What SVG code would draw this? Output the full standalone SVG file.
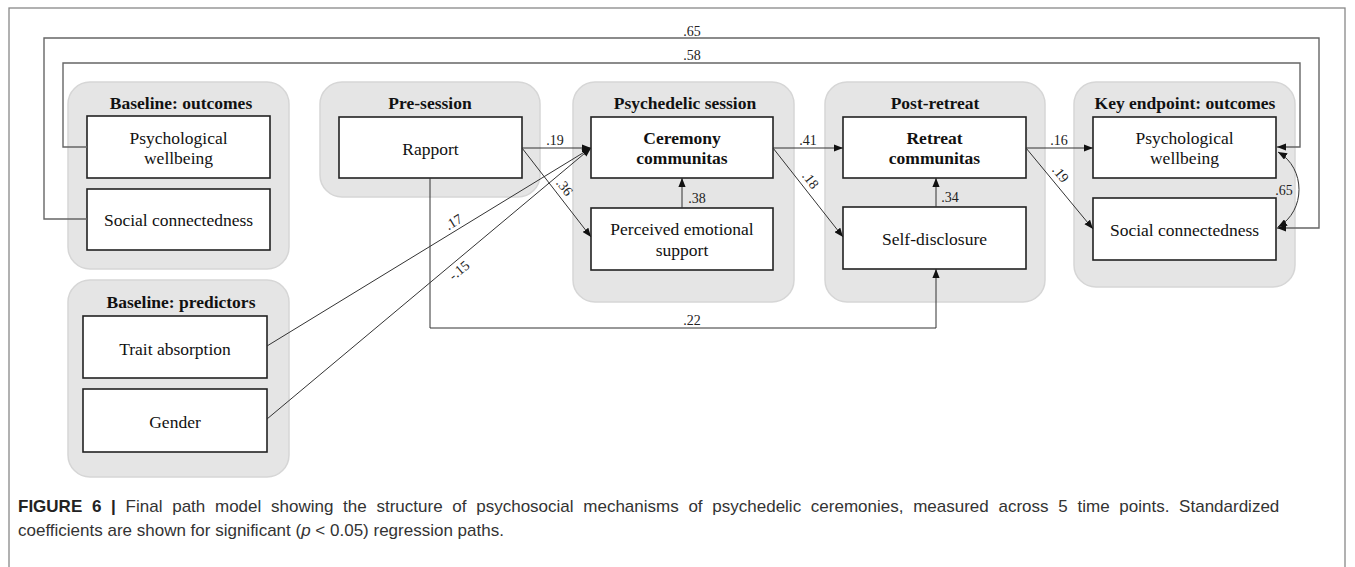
<svg xmlns="http://www.w3.org/2000/svg" width="1355" height="567" viewBox="0 0 1355 567">
<defs>
<marker id="ah" viewBox="0 0 10 8" markerWidth="9" markerHeight="7.5" refX="10" refY="4" orient="auto-start-reverse" markerUnits="userSpaceOnUse">
<path d="M0,0 L10,4 L0,8 z" fill="#111"/>
</marker>
<style>
.grp{fill:#e5e5e5;stroke:#d6d6d6;stroke-width:1.5}
.box{fill:#fff;stroke:#222;stroke-width:1.6}
.t{font-family:"Liberation Serif","Times New Roman",serif;font-size:17.5px;fill:#111;text-anchor:middle}
.b{font-weight:bold}
.lbl{font-family:"Liberation Serif","Times New Roman",serif;font-size:14px;fill:#222;text-anchor:middle}
.c{fill:none;stroke:#333;stroke-width:1}
.loop{fill:none;stroke:#666;stroke-width:1.4}
.cap{font-family:"Liberation Sans",Arial,sans-serif;font-size:17px;fill:#333}
</style>
</defs>
<rect x="9" y="8" width="1336" height="600" fill="none" stroke="#888" stroke-width="1.3"/>

<g id="group-baseline-outcomes">
<rect class="grp" x="68" y="82" width="221" height="187" rx="22"/>
<text class="t b" x="181" y="109">Baseline: outcomes</text>
</g>
<g id="group-pre-session">
<rect class="grp" x="320" y="82" width="220" height="115" rx="22"/>
<text class="t b" x="430" y="109">Pre-session</text>
</g>
<g id="group-psychedelic-session">
<rect class="grp" x="573" y="82" width="221" height="220" rx="22"/>
<text class="t b" x="685" y="109">Psychedelic session</text>
</g>
<g id="group-post-retreat">
<rect class="grp" x="825" y="82" width="220" height="220" rx="22"/>
<text class="t b" x="935" y="109">Post-retreat</text>
</g>
<g id="group-key-endpoint">
<rect class="grp" x="1074" y="82" width="221" height="205" rx="22"/>
<text class="t b" x="1185" y="109">Key endpoint: outcomes</text>
</g>
<g id="group-baseline-predictors">
<rect class="grp" x="68" y="280" width="221" height="197" rx="22"/>
<text class="t b" x="181" y="308">Baseline: predictors</text>
</g>

<g id="node-baseline-wellbeing">
<rect class="box" x="87" y="116" width="183" height="62"/>
<text class="t" x="178.5" y="144">Psychological</text>
<text class="t" x="178.5" y="164">wellbeing</text>
</g>
<g id="node-baseline-connectedness">
<rect class="box" x="87" y="189" width="183" height="61"/>
<text class="t" x="178.5" y="226">Social connectedness</text>
</g>
<g id="node-rapport">
<rect class="box" x="339" y="117" width="183" height="61"/>
<text class="t" x="430.5" y="155">Rapport</text>
</g>
<g id="node-ceremony-communitas">
<rect class="box" x="591" y="117" width="182" height="61"/>
<text class="t b" x="682" y="144">Ceremony</text>
<text class="t b" x="682" y="164">communitas</text>
</g>
<g id="node-emotional-support">
<rect class="box" x="591" y="208" width="182" height="62"/>
<text class="t" x="682" y="235">Perceived emotional</text>
<text class="t" x="682" y="256">support</text>
</g>
<g id="node-retreat-communitas">
<rect class="box" x="843" y="117" width="183" height="61"/>
<text class="t b" x="934.5" y="144">Retreat</text>
<text class="t b" x="934.5" y="164">communitas</text>
</g>
<g id="node-self-disclosure">
<rect class="box" x="843" y="207" width="183" height="62"/>
<text class="t" x="934.5" y="245">Self-disclosure</text>
</g>
<g id="node-key-wellbeing">
<rect class="box" x="1093" y="117" width="183" height="61"/>
<text class="t" x="1184.5" y="144">Psychological</text>
<text class="t" x="1184.5" y="164">wellbeing</text>
</g>
<g id="node-key-connectedness">
<rect class="box" x="1093" y="198" width="183" height="62"/>
<text class="t" x="1184.5" y="236">Social connectedness</text>
</g>
<g id="node-trait-absorption">
<rect class="box" x="83" y="316" width="184" height="62"/>
<text class="t" x="175" y="355">Trait absorption</text>
</g>
<g id="node-gender">
<rect class="box" x="83" y="389" width="184" height="63"/>
<text class="t" x="175" y="428">Gender</text>
</g>

<g id="connectors">
<polyline class="loop" points="87,219 44,219 44,38 1319,38 1319,228 1277,228" marker-end="url(#ah)"/>
<polyline class="loop" points="87,147 63,147 63,63 1300,63 1300,147 1277,147" marker-end="url(#ah)"/>
<text class="lbl" x="692" y="36">.65</text>
<text class="lbl" x="692" y="60">.58</text>

<line class="c" x1="522" y1="148" x2="591" y2="148" marker-end="url(#ah)"/>
<text class="lbl" x="555" y="145">.19</text>
<line class="c" x1="522" y1="148" x2="591" y2="237" marker-end="url(#ah)"/>
<text class="lbl" transform="translate(561,190) rotate(52)">.36</text>
<line class="c" x1="267" y1="346" x2="591" y2="148" marker-end="url(#ah)"/>
<text class="lbl" transform="translate(456,226) rotate(-31.4)">.17</text>
<line class="c" x1="267" y1="419" x2="591" y2="148" marker-end="url(#ah)"/>
<text class="lbl" transform="translate(462,274) rotate(-39.9)">-.15</text>
<polyline class="c" points="430,178 430,328 936,328 936,269" marker-end="url(#ah)"/>
<text class="lbl" x="692" y="325">.22</text>

<line class="c" x1="682" y1="208" x2="682" y2="178" marker-end="url(#ah)"/>
<text class="lbl" x="697" y="203">.38</text>
<line class="c" x1="773" y1="148" x2="843" y2="148" marker-end="url(#ah)"/>
<text class="lbl" x="808" y="145">.41</text>
<line class="c" x1="773" y1="148" x2="843" y2="237" marker-end="url(#ah)"/>
<text class="lbl" transform="translate(807,183) rotate(52)">.18</text>

<line class="c" x1="936" y1="207" x2="936" y2="178" marker-end="url(#ah)"/>
<text class="lbl" x="950" y="202">.34</text>
<line class="c" x1="1026" y1="148" x2="1093" y2="148" marker-end="url(#ah)"/>
<text class="lbl" x="1059" y="145">.16</text>
<line class="c" x1="1026" y1="148" x2="1093" y2="229" marker-end="url(#ah)"/>
<text class="lbl" transform="translate(1057,177) rotate(50.4)">.19</text>

<path class="c" d="M1278,152 C1306,168 1306,211 1278,227" marker-start="url(#ah)" marker-end="url(#ah)"/>
<text class="lbl" x="1284" y="195">.65</text>
</g>

<g id="caption">
<text class="cap" x="18" y="512" word-spacing="5"><tspan font-weight="bold" fill="#222">FIGURE 6 | </tspan>Final path model showing the structure of psychosocial mechanisms of psychedelic ceremonies, measured across 5 time points. Standardized</text>
<text class="cap" x="18" y="536">coefficients are shown for significant (<tspan font-style="italic">p</tspan> &lt; 0.05) regression paths.</text>
</g>
</svg>
